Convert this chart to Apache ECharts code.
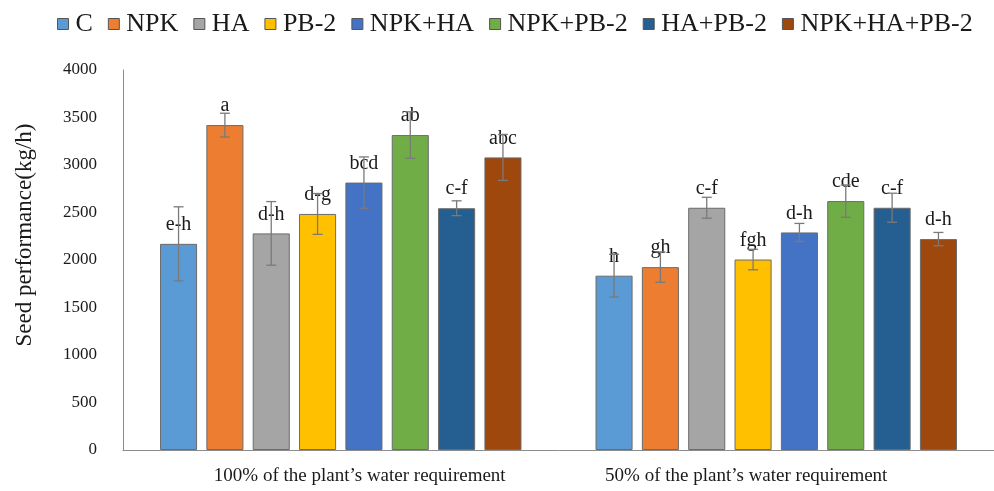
<!DOCTYPE html>
<html>
<head>
<meta charset="utf-8">
<script src="https://cdn.jsdelivr.net/npm/echarts@6/dist/echarts.min.js"></script>
<style>
  html, body { margin: 0; padding: 0; background: #fff; }
  #chart { width: 994px; height: 491px; }
</style>
</head>
<body>
<div id="chart"></div>
<script>
// Irrigation levels (x categories)
const waterLevels = ["100% of the plant\u2019s water requirement", "50% of the plant\u2019s water requirement"];

// Fertilizer treatments (one bar series each)
const treatments = ["C", "NPK", "HA", "PB-2", "NPK+HA", "NPK+PB-2", "HA+PB-2", "NPK+HA+PB-2"];
const treatmentColors = ["#5B9BD5", "#ED7D31", "#A5A5A5", "#FFC000", "#4472C4", "#70AD47", "#255E91", "#9E480E"];

// Mean seed yield (kg/h) per treatment
const yieldFull = [2170, 3420, 2280, 2485, 2815, 3315, 2545, 3080];
const yieldHalf = [1835, 1925, 2550, 2005, 2290, 2620, 2550, 2220];

// Error bar half-widths (kg/h)
const errFull = [390, 125, 335, 215, 270, 245, 78, 242];
const errHalf = [225, 160, 110, 108, 95, 170, 153, 70];

// Significance letters
const lettersFull = ["e-h", "a", "d-h", "d-g", "bcd", "ab", "c-f", "abc"];
const lettersHalf = ["h", "gh", "c-f", "fgh", "d-h", "cde", "c-f", "d-h"];

// Y axis ticks
const yMin = 0, yMax = 4000, yStep = 500;

const serif = "'Liberation Serif', 'Times New Roman', serif";
const barCategoryGap = 0.17;
const barGap = 0.25;
const nBars = treatments.length;

const series = [];
treatments.forEach((name, i) => {
  const letters = [lettersFull[i], lettersHalf[i]];
  series.push({
    name: name,
    type: "bar",
    barGap: (barGap * 100) + "%",
    barCategoryGap: (barCategoryGap * 100) + "%",
    data: [yieldFull[i], yieldHalf[i]],
    itemStyle: { color: treatmentColors[i], borderColor: "#6b6b6b", borderWidth: 1 },
    label: {
      show: true,
      position: "top",
      distance: 9,
      fontFamily: serif,
      fontSize: 20,
      color: "#1a1a1a",
      formatter: p => letters[p.dataIndex]
    },
    z: 2
  });
});

// Error bars drawn at each bar's centre within its category band
treatments.forEach((name, i) => {
  const errs = [errFull[i], errHalf[i]];
  const means = [yieldFull[i], yieldHalf[i]];
  series.push({
    type: "custom",
    name: name + " error",
    z: 3,
    silent: true,
    data: [0, 1].map(k => [k, means[k] - errs[k], means[k] + errs[k]]),
    renderItem: (params, api) => {
      const cat = api.value(0);
      const lo = api.coord([cat, api.value(1)]);
      const hi = api.coord([cat, api.value(2)]);
      const band = api.size([1, 0])[0];
      const total = band * (1 - barCategoryGap);
      const w = total / (nBars + (nBars - 1) * barGap);
      const x = lo[0] - total / 2 + i * w * (1 + barGap) + w / 2;
      const cap = 5;
      const style = { stroke: "#7a7a7a", lineWidth: 1.3 };
      return {
        type: "group",
        children: [
          { type: "line", shape: { x1: x, y1: hi[1], x2: x, y2: lo[1] }, style },
          { type: "line", shape: { x1: x - cap, y1: hi[1], x2: x + cap, y2: hi[1] }, style },
          { type: "line", shape: { x1: x - cap, y1: lo[1], x2: x + cap, y2: lo[1] }, style }
        ]
      };
    }
  });
});

const chart = echarts.init(document.getElementById("chart"), null, { renderer: "canvas" });
chart.setOption({
  animation: false,
  backgroundColor: "#fff",
  legend: {
    data: treatments,
    top: 6,
    left: 52,
    icon: "rect",
    itemWidth: 11,
    itemHeight: 11,
    itemGap: 15,
    itemStyle: { borderColor: "#555", borderWidth: 1 },
    textStyle: { fontFamily: serif, fontSize: 26, color: "#1a1a1a", padding: [0, 0, 0, 2] }
  },
  grid: { left: 123, right: 0, top: 70, bottom: 41, containLabel: false },
  xAxis: {
    type: "category",
    data: waterLevels,
    axisLine: { lineStyle: { color: "#8c8c8c", width: 1 } },
    axisTick: { show: false },
    axisLabel: {
      interval: 0,
      hideOverlap: false,
      fontFamily: serif,
      fontSize: 19,
      color: "#1a1a1a",
      margin: 17,
      // the two captions sit slightly off their group centres
      formatter: (v, idx) => (idx === 0 ? "{first|" : "{second|") + v + "}",
      rich: {
        first: { fontFamily: serif, fontSize: 19, color: "#1a1a1a", padding: [0, 0, 0, 38] },
        second: { fontFamily: serif, fontSize: 19, color: "#1a1a1a", padding: [0, 60, 0, 0] }
      }
    }
  },
  yAxis: {
    type: "value",
    min: yMin,
    max: yMax,
    interval: yStep,
    name: "Seed performance(kg/h)",
    nameLocation: "middle",
    nameGap: 87,
    nameTextStyle: { fontFamily: serif, fontSize: 23, color: "#1a1a1a", padding: [0, 0, 0, 50] },
    axisLine: { show: true, lineStyle: { color: "#8c8c8c", width: 1 } },
    axisTick: { show: false },
    splitLine: { show: false },
    axisLabel: { fontFamily: serif, fontSize: 17, color: "#1a1a1a", margin: 26, formatter: v => String(v) }
  },
  series: series
});
</script>
</body>
</html>
